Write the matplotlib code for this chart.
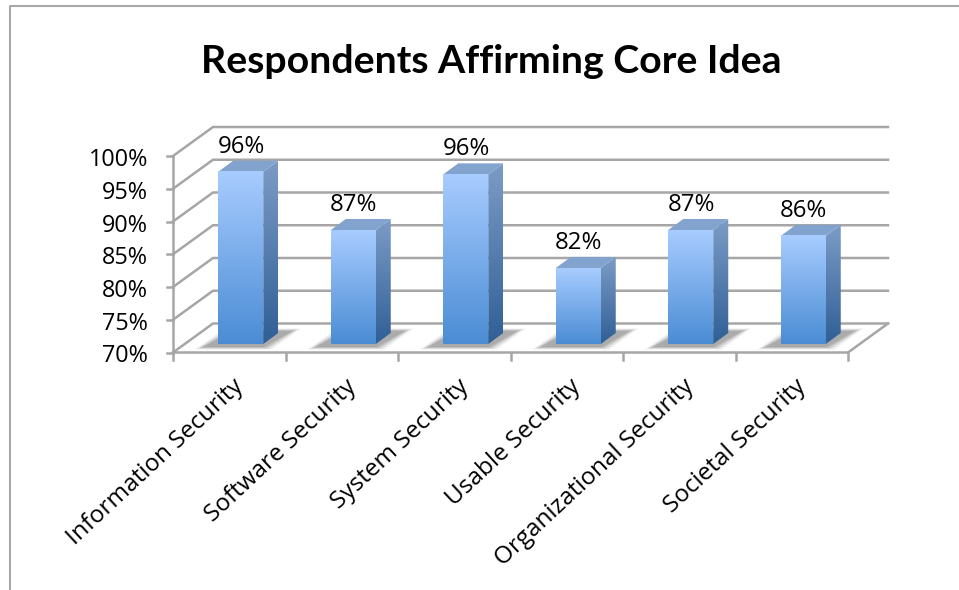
import numpy as np
import matplotlib
matplotlib.use("Agg")
import matplotlib.pyplot as plt
from matplotlib.colors import LinearSegmentedColormap
from matplotlib.patches import Polygon
from matplotlib.lines import Line2D

title = "Respondents Affirming Core Idea"
categories = ["Information Security", "Software Security", "System Security",
              "Usable Security", "Organizational Security", "Societal Security"]
values = [96.3, 87.4, 95.9, 81.6, 87.4, 86.5]
value_labels = ["96%", "87%", "96%", "82%", "87%", "86%"]
yticks = [70, 75, 80, 85, 90, 95, 100]
ytick_labels = ["70%", "75%", "80%", "85%", "90%", "95%", "100%"]

W, H = 959, 590
L, R, T, B = 173, 848, 156, 352.5
FONT = "Open Sans"
GRID = "#A6A6A6"
LW = 1.8

fig = plt.figure(figsize=(W / 100, H / 100), dpi=100)
ax = fig.add_axes([L / W, 1 - B / H, (R - L) / W, (B - T) / H])
ax.set_xlim(0, 6)
ax.set_ylim(70, 100)
ax.axis("off")
PX = 6 / (R - L)
PY = 30 / (B - T)


def at(x, y, dx=0, dy=0):
    return (x + dx * PX, y + dy * PY)


DX, DY = 40, 29
# frame
fig.add_artist(Line2D([9.5 / W, 9.5 / W, 1], [0, 1 - 5.5 / H, 1 - 5.5 / H],
                      color="#A8A8A8", lw=1.5, transform=fig.transFigure))

# walls and grid
for t in yticks:
    x0, y0 = at(0, t)
    x1, y1 = at(0, t, DX, DY)
    x2, y2 = at(6, t, DX, DY)
    ax.plot([x0, x1, x2], [y0, y1, y2], color=GRID, lw=LW, clip_on=False, zorder=1,
            solid_joinstyle="miter")
    tx, ty = at(0, t, -6, 0)
    ax.plot([tx, x0], [ty, y0], color=GRID, lw=LW, clip_on=False, zorder=1)
ax.plot([0, 0], [70, 100], color=GRID, lw=LW, clip_on=False, zorder=1)
xr, yr = at(6, 70, DX, DY)
ax.plot([0, 6, xr], [70, 70, yr], color=GRID, lw=LW, clip_on=False, zorder=1,
        solid_joinstyle="miter")
for k in range(7):
    ex, ey = at(k, 70, 0, -7.5)
    ax.plot([k, ex], [70, ey], color=GRID, lw=LW, clip_on=False, zorder=1)

front = LinearSegmentedColormap.from_list("front", ["#A8CCFF", "#4A8CD4"])
side = LinearSegmentedColormap.from_list("side", ["#7C9CC6", "#2F5F96"])
ramp = np.linspace(0, 1, 256).reshape(-1, 1)
WIDTH = 0.4
OX, OY = 11.5, 8.5
SX, SY = 15, 11

for i, v in enumerate(values):
    c = i + 0.5
    xl, yb = at(c - WIDTH / 2, 70, OX, OY)
    xh, _ = at(c + WIDTH / 2, 70, OX, OY)
    top = at(0, v, 0, OY)[1]
    # soft shadow on the floor
    for grow, a in zip(np.linspace(9, 0, 10), [0.03] * 4 + [0.06] * 6):
        pts = [at(xl, yb, -15 - grow, -3 - grow * 0.3), at(xh, yb, 0 + grow, -3 - grow * 0.3),
               at(xh, yb, 29 + grow, 13 + grow * 0.3), at(xl, yb, 15 - grow, 13 + grow * 0.3)]
        ax.add_patch(Polygon(pts, closed=True, fc="#303030", ec="none", alpha=a,
                             clip_on=False, zorder=2))
    # side face
    side_pts = [(xh, yb), at(xh, yb, SX, SY), at(xh, top, SX, SY), (xh, top)]
    poly = Polygon(side_pts, closed=True, fc="none", ec="none", transform=ax.transData)
    ax.add_patch(poly)
    im = ax.imshow(ramp, cmap=side, aspect="auto", zorder=3, origin="upper",
                   extent=[xh, at(xh, 0, SX)[0], yb, at(0, top, 0, SY)[1]])
    im.set_clip_path(poly)
    # top face
    ax.add_patch(Polygon([(xl, top), (xh, top), at(xh, top, SX, SY), at(xl, top, SX, SY)],
                         closed=True, fc="#82A3CE", ec="none", clip_on=False, zorder=3))
    # front face
    ax.imshow(ramp, cmap=front, aspect="auto", zorder=4, origin="upper",
              extent=[xl, xh, yb, top], clip_on=False)
    lx, ly = at((xl + xh) / 2, top, 0.5, 25)
    ax.text(lx, ly, value_labels[i], ha="center", va="center", fontsize=17.3,
            family=FONT, color="black", zorder=6, clip_on=False)
    # category label
    cx, cy = at(c, 70, 11, -31)
    ax.text(cx, cy, categories[i], rotation=43, ha="right", va="center",
            rotation_mode="anchor", fontsize=17.5, family=FONT, color="black")

ax.set_xlim(0, 6)
ax.set_ylim(70, 100)

for t, lab in zip(yticks, ytick_labels):
    ty = at(0, t, 0, -4)[1]
    ax.text(0 - 25 * PX, ty, lab, ha="right", va="center", fontsize=16.8, family=FONT,
            color="black", clip_on=False)

fig.text(491 / W, 1 - 61.5 / H, title, ha="center", va="center", fontsize=28.3,
         fontweight="bold", family="Lato", color="black")
fig.savefig("out.png", dpi=100)
